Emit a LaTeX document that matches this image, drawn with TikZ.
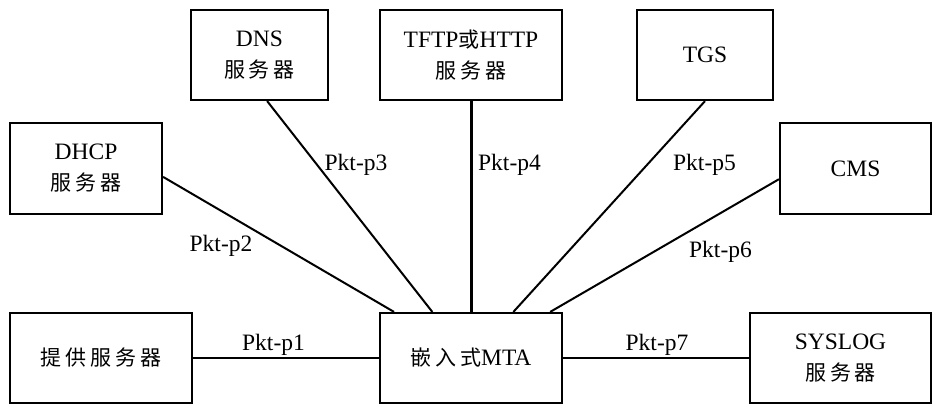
\documentclass[tikz,border=0pt]{standalone}
\usepackage{fontspec}
\setmainfont{Liberation Serif}
\newfontfamily\cjk[LetterSpace=18]{Noto Sans CJK SC}
\usetikzlibrary{calc}
\begin{document}
\begin{tikzpicture}[x=1pt,y=-1pt,
  box/.style={draw,line width=2.2pt,minimum width=#1,minimum height=90pt,inner sep=0pt,align=center,font=\fontsize{23.5}{27}\selectfont},
  link/.style={line width=2pt},
  lbl/.style={anchor=base,inner sep=0pt,font=\fontsize{23.5}{27}\selectfont}]
\useasboundingbox (0,0) rectangle (932,405);
\newcommand\fwq{{\cjk\fontsize{21}{27}\selectfont 服务器}}
\node[box=137pt] (dns) at (259.5,55) {DNS\\[4pt]\fwq};
\node[box=182pt] (tftp) at (471,55) {TFTP{\cjk\fontsize{21}{27}\selectfont 或}HTTP\\[4pt]\fwq};
\node[box=136pt] (tgs) at (705,55) {TGS};
\node[box=152pt,minimum height=91pt] (dhcp) at (86,168.5) {DHCP\\[4pt]\fwq};
\node[box=151pt,minimum height=91pt] (cms) at (855.5,168.5) {CMS};
\node[box=182pt] (prov) at (101,358) {{\cjk\fontsize{21}{27}\selectfont 提供服务器}};
\node[box=182pt] (mta) at (471,358) {{\cjk\fontsize{21}{27}\selectfont 嵌入式}MTA};
\node[box=181pt] (sys) at (840.5,358) {SYSLOG\\[4pt]\fwq};
\draw[link] (prov.east) -- (mta.west);
\draw[link] ($(dhcp.north east)!0.59!(dhcp.south east)$) -- ($(mta.north west)!0.082!(mta.north east)$);
\draw[link] ($(dns.south west)!0.555!(dns.south east)$) -- ($(mta.north west)!0.29!(mta.north east)$);
\draw[line width=3pt] (tftp.south) -- (mta.north);
\draw[link] (tgs.south) -- ($(mta.north west)!0.73!(mta.north east)$);
\draw[link] ($(cms.north west)!0.615!(cms.south west)$) -- ($(mta.north west)!0.93!(mta.north east)$);
\draw[link] (mta.east) -- (sys.west);
\node[lbl] (l1) at (273.5,350) {Pkt-p1};
\node[lbl] (l2) at (221,251) {Pkt-p2};
\node[lbl] (l3) at (356,170) {Pkt-p3};
\node[lbl] (l4) at (509.5,170) {Pkt-p4};
\node[lbl] (l5) at (704.5,170) {Pkt-p5};
\node[lbl] (l6) at (720.5,257) {Pkt-p6};
\node[lbl] (l7) at (657,350) {Pkt-p7};
\end{tikzpicture}
\end{document}
